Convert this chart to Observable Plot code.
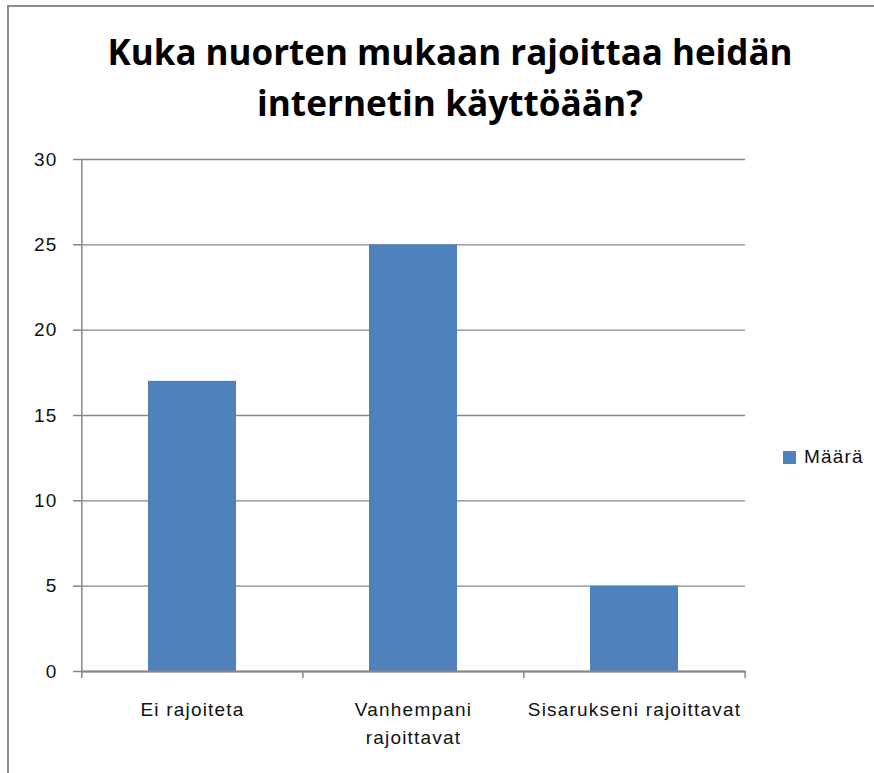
<!DOCTYPE html>
<html>
<head>
<meta charset="utf-8">
<script src="https://cdn.jsdelivr.net/npm/d3@7"></script>
<script src="https://cdn.jsdelivr.net/npm/@observablehq/plot@0.6"></script>
<style>
  body { margin: 0; background: #fff; }
  #wrap { position: relative; width: 874px; height: 773px; background: #fff; overflow: hidden; }
  #frame { position: absolute; left: 7px; top: 5px; width: 900px; height: 800px;
           border-top: 2px solid #8c8c8c; border-left: 2px solid #8c8c8c; box-sizing: border-box; }
  #title { position: absolute; left: 0; top: 0; }
  #chart { position: absolute; left: 0; top: 140px; }
  #legend { position: absolute; left: 783px; top: 446px; display: flex; align-items: center;
            font-family: "Liberation Sans", Arial, sans-serif; font-size: 19px; letter-spacing: 1.2px; color: #111; }
  #legend .sw { width: 13px; height: 13px; margin-right: 8px; }
</style>
</head>
<body>
<div id="wrap">
  <div id="frame"></div>
  <svg id="title" width="874" height="140"></svg>
  <div id="chart"></div>
  <div id="legend"><div class="sw"></div><span></span></div>
</div>
<script>
const titleLines = ["Kuka nuorten mukaan rajoittaa heidän", "internetin käyttöään?"];
const categories = ["Ei rajoiteta", "Vanhempani rajoittavat", "Sisarukseni rajoittavat"];
const values = [17, 25, 5];
const tickLabels = ["Ei rajoiteta", "Vanhempani\nrajoittavat", "Sisarukseni rajoittavat"];
const yTicks = [0, 5, 10, 15, 20, 25, 30];
const seriesName = "Määrä";
const barColor = "#4f81bd";
const gridColor = "#868686";

// Title
const tsvg = d3.select("#title");
const titleWidths = [685, 386];
const titleBaselines = [65, 116];
titleLines.forEach((t, i) => {
  tsvg.append("text")
    .attr("x", 450).attr("y", titleBaselines[i])
    .attr("text-anchor", "middle")
    .attr("font-family", "'Open Sans', sans-serif")
    .attr("font-weight", "bold")
    .attr("font-size", 36)
    .attr("fill", "#000")
    .attr("textLength", titleWidths[i])
    .attr("lengthAdjust", "spacingAndGlyphs")
    .text(t);
});

// Legend
document.querySelector("#legend .sw").style.background = barColor;
document.querySelector("#legend span").textContent = seriesName;

const data = categories.map((c, i) => ({category: c, value: values[i]}));
const labelOf = new Map(categories.map((c, i) => [c, tickLabels[i]]));

const width = 874, height = 633;
const marginLeft = 81, marginRight = 129, marginTop = 19, marginBottom = 102;
const step = (width - marginLeft - marginRight) / categories.length;
const yMax = d3.max(yTicks);

const chart = Plot.plot({
  width, height, marginLeft, marginRight, marginTop, marginBottom,
  style: {fontFamily: "'Liberation Sans', Arial, sans-serif", fontSize: "19px", letterSpacing: "1.2px", color: "#111", background: "transparent"},
  x: {domain: categories, paddingInner: 0.6, paddingOuter: 0.3, label: null},
  y: {domain: [0, yMax], label: null},
  marks: [
    Plot.gridY(yTicks, {stroke: gridColor, strokeOpacity: 1, strokeWidth: 1.3}),
    Plot.barY(data, {x: "category", y: "value", fill: barColor}),
    Plot.ruleY([0], {stroke: gridColor, strokeWidth: 2}),
    // vertical axis line (left boundary of first category)
    Plot.ruleX([categories[0]], {x: d => d, y1: yMax, y2: 0, dx: -step / 2, insetBottom: -7, stroke: gridColor, strokeWidth: 1.5}),
    // category boundary tick marks
    Plot.ruleX(categories.slice(1), {x: d => d, y1: 0, y2: 0, dx: -step / 2, insetBottom: -7, stroke: gridColor, strokeWidth: 1.5}),
    Plot.ruleX(categories.slice(-1), {x: d => d, y1: 0, y2: 0, dx: step / 2, insetBottom: -7, stroke: gridColor, strokeWidth: 1.5}),
    Plot.axisY({ticks: yTicks, tickSize: 8, tickPadding: 16, stroke: gridColor, strokeWidth: 1.5, fill: "#111", label: null}),
    Plot.axisX({tickSize: 0, tickPadding: 24, tickFormat: d => labelOf.get(d), lineHeight: 1.5, fill: "#111", label: null})
  ]
});
document.getElementById("chart").appendChild(chart);
</script>
</body>
</html>
